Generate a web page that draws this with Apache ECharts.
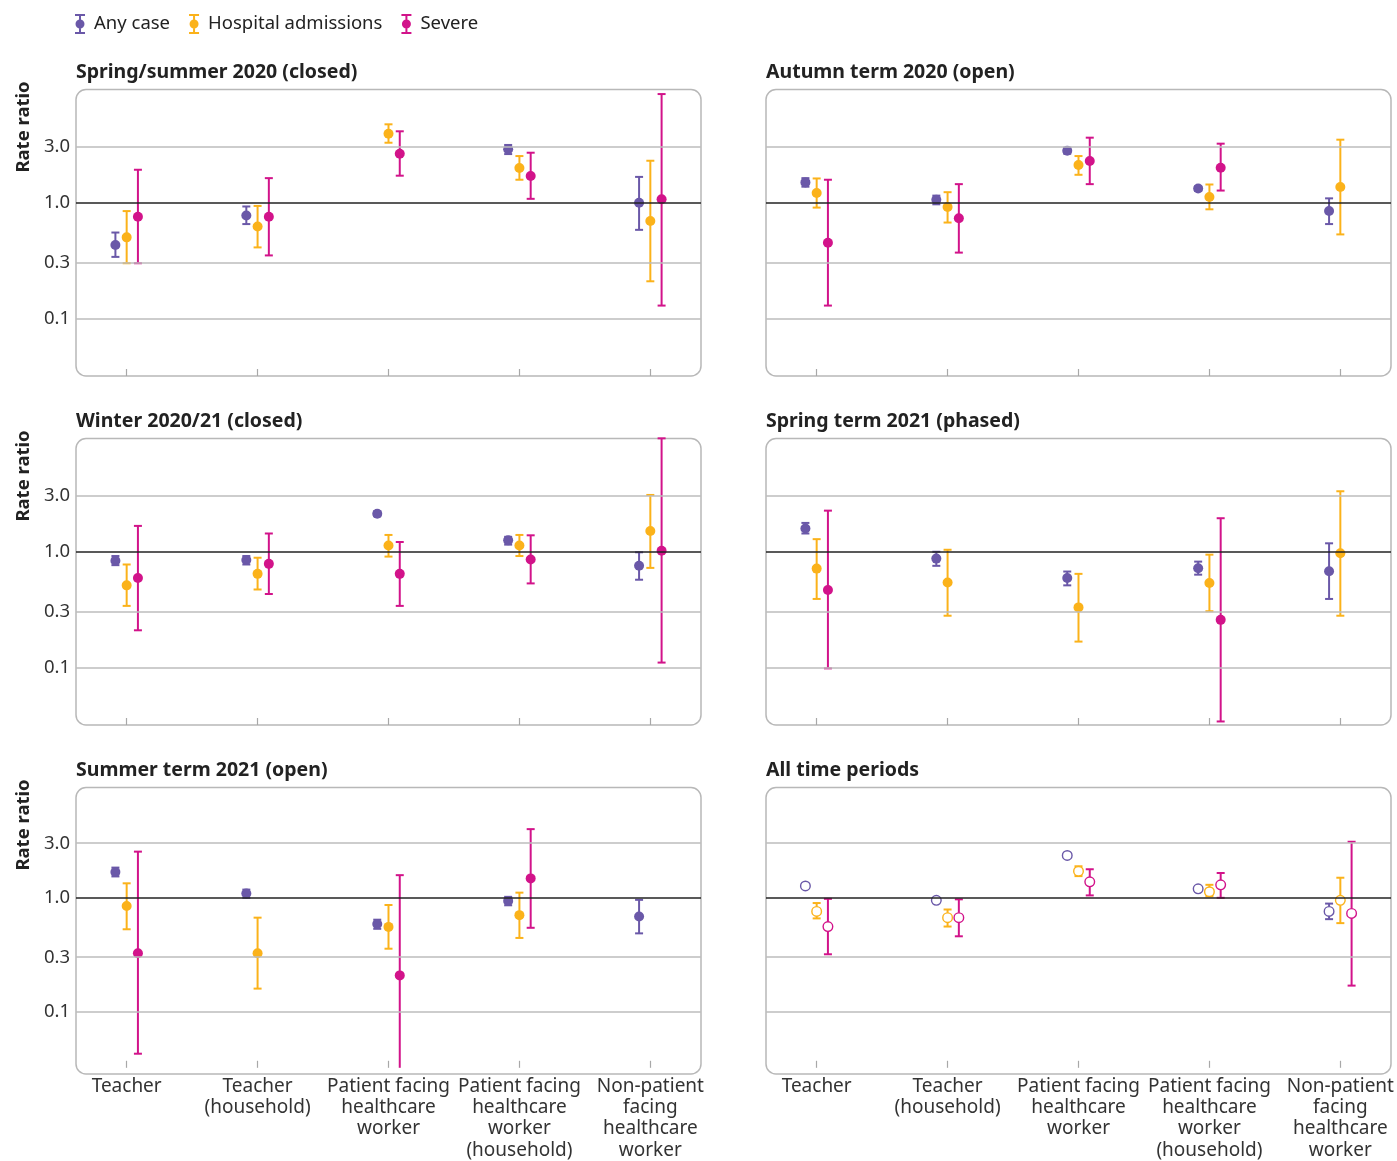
<!DOCTYPE html>
<html>
<head>
<meta charset="utf-8">
<script src="https://cdn.jsdelivr.net/npm/echarts@6/dist/echarts.min.js"></script>
<style>
html,body{margin:0;padding:0;background:#fff;}
#chart{width:1397px;height:1161px;}
</style>
</head>
<body>
<div id="chart"></div>
<script>
// ---------- data ----------
const categories = ['Teacher', 'Teacher\n(household)', 'Patient facing\nhealthcare\nworker', 'Patient facing\nhealthcare\nworker\n(household)', 'Non-patient\nfacing\nhealthcare\nworker'];
const groups = ['Any case', 'Hospital admissions', 'Severe'];
const panelTitles = ['Spring/summer 2020 (closed)', 'Autumn term 2020 (open)', 'Winter 2020/21 (closed)', 'Spring term 2021 (phased)', 'Summer term 2021 (open)', 'All time periods'];
const yTicks = [0.1, 0.3, 1.0, 3.0];

// each entry: [estimate, lower CI, upper CI] per category (null = not shown)
// Spring/summer 2020 (closed)
const springSummerAny    = [[0.43,0.34,0.55],[0.77,0.65,0.92],null,[2.85,2.59,3.10],[0.99,0.58,1.65]];
const springSummerHosp   = [[0.50,0.30,0.84],[0.62,0.41,0.93],[3.87,3.24,4.66],[1.97,1.56,2.49],[0.69,0.21,2.27]];
const springSummerSevere = [[0.75,0.30,1.90],[0.75,0.35,1.61],[2.61,1.69,4.06],[1.68,1.07,2.66],[1.06,0.13,8.47]];
// Autumn term 2020 (open)
const autumnAny    = [[1.48,1.36,1.61],[1.05,0.96,1.14],[2.77,2.61,2.94],[1.31,1.25,1.37],[0.84,0.65,1.08]];
const autumnHosp   = [[1.20,0.90,1.60],[0.91,0.67,1.22],[2.09,1.72,2.49],[1.11,0.87,1.42],[1.35,0.53,3.44]];
const autumnSevere = [[0.45,0.13,1.56],[0.73,0.37,1.43],[2.26,1.43,3.58],[1.98,1.26,3.18],null];
// Winter 2020/21 (closed)
const winterAny    = [[0.83,0.76,0.91],[0.84,0.77,0.91],[2.10,2.00,2.20],[1.24,1.14,1.33],[0.75,0.57,0.98]];
const winterHosp   = [[0.51,0.34,0.77],[0.64,0.47,0.88],[1.12,0.90,1.38],[1.12,0.91,1.38],[1.49,0.72,3.04]];
const winterSevere = [[0.59,0.21,1.65],[0.78,0.43,1.42],[0.64,0.34,1.20],[0.85,0.53,1.37],[1.01,0.111,9.3]];
// Spring term 2021 (phased)
const springAny    = [[1.57,1.42,1.75],[0.865,0.75,0.99],[0.59,0.51,0.67],[0.715,0.63,0.815],[0.674,0.39,1.17]];
const springHosp   = [[0.71,0.39,1.27],[0.54,0.28,1.03],[0.33,0.168,0.64],[0.535,0.306,0.935],[0.96,0.28,3.27]];
const springSevere = [[0.466,0.099,2.23],null,null,[0.258,0.0347,1.92],null];
// Summer term 2021 (open)
const summerAny    = [[1.68,1.54,1.84],[1.09,1.00,1.18],[0.59,0.535,0.643],[0.94,0.86,1.02],[0.687,0.488,0.96]];
const summerHosp   = [[0.848,0.53,1.34],[0.327,0.16,0.67],[0.556,0.358,0.865],[0.705,0.445,1.11],null];
const summerSevere = [[0.327,0.043,2.54],null,[0.209,0.02,1.58],[1.48,0.546,4.0],null];
// All time periods
const allAny    = [[1.27,1.22,1.32],[0.95,0.91,0.99],[2.35,2.25,2.45],[1.20,1.15,1.25],[0.76,0.65,0.89]];
const allHosp   = [[0.76,0.66,0.90],[0.67,0.56,0.79],[1.71,1.55,1.89],[1.13,1.03,1.30],[0.95,0.60,1.50]];
const allSevere = [[0.56,0.32,0.98],[0.67,0.46,0.97],[1.38,1.05,1.78],[1.30,1.00,1.65],[0.73,0.17,3.1]];

const panelData = [
  [springSummerAny, springSummerHosp, springSummerSevere],
  [autumnAny, autumnHosp, autumnSevere],
  [winterAny, winterHosp, winterSevere],
  [springAny, springHosp, springSevere],
  [summerAny, summerHosp, summerSevere],
  [allAny, allHosp, allSevere]
];
const hollowPanel = [false, false, false, false, false, true];

// ---------- styling ----------
const FONT = 'Noto Sans';
const colors = ['#6a58a8', '#fbb21a', '#d2138a'];
const offsets = [-0.086, 0, 0.086];
const colLeft = [76, 766];
const rowTop = [89.5, 438.5, 787.5];
const boxW = 625, boxH = 286.5;
const xMin = -0.387, xMax = 4.387;
const yMin = -1.49, yMax = 0.967;

function makeRender(offset, hollow, color) {
  return function (params, api) {
    const cat = api.value(0);
    const v = api.value(1), lo = api.value(2), hi = api.value(3);
    const cs = params.coordSys;
    const p = api.coord([cat + offset, v]);
    const pl = api.coord([cat + offset, lo]);
    const ph = api.coord([cat + offset, hi]);
    const bottom = cs.y + cs.height;
    let lowY = pl[1], lowCap = true;
    if (lowY > bottom) { lowY = bottom; lowCap = false; }
    const st = { stroke: color, lineWidth: 2 };
    const children = [
      { type: 'line', shape: { x1: p[0], y1: ph[1], x2: p[0], y2: lowY }, style: st },
      { type: 'line', shape: { x1: p[0] - 4, y1: ph[1], x2: p[0] + 4, y2: ph[1] }, style: st }
    ];
    if (lowCap) children.push({ type: 'line', shape: { x1: p[0] - 4, y1: lowY, x2: p[0] + 4, y2: lowY }, style: st });
    children.push({
      type: 'circle', shape: { cx: p[0], cy: p[1], r: hollow ? 4.8 : 5 },
      style: hollow ? { fill: '#fff', stroke: color, lineWidth: 1.4 } : { fill: color }
    });
    return { type: 'group', children: children };
  };
}

const grids = [], xAxes = [], yAxes = [], series = [], titles = [], graphics = [];
for (let i = 0; i < 6; i++) {
  const row = Math.floor(i / 2), col = i % 2;
  const left = colLeft[col], top = rowTop[row];
  grids.push({ left: left, top: top, width: boxW, height: boxH, containLabel: false });
  xAxes.push({
    gridIndex: i, type: 'value', min: xMin, max: xMax, position: 'bottom',
    axisLine: { show: false, onZero: false }, splitLine: { show: false },
    axisTick: { show: true, inside: true, length: 7, customValues: [0, 1, 2, 3, 4], lineStyle: { color: '#a8a8a8', width: 1.2 } },
    axisLabel: { show: row === 2, customValues: [0, 1, 2, 3, 4], formatter: function (v) { return categories[Math.round(v)]; },
      fontSize: 19, lineHeight: 21.3, color: '#333', fontFamily: FONT, margin: 8 }
  });
  yAxes.push({
    gridIndex: i, type: 'value', min: yMin, max: yMax, position: 'left',
    axisLine: { show: false, onZero: false }, axisTick: { show: false }, splitLine: { show: false },
    axisLabel: { show: col === 0, customValues: yTicks.map(function (t) { return Math.log10(t); }),
      formatter: function (v) { return Math.pow(10, v).toFixed(1); },
      fontSize: 18.5, color: '#333', fontFamily: FONT, margin: 6 }
  });
  // gridlines
  series.push({
    type: 'line', xAxisIndex: i, yAxisIndex: i, data: [], z: 1, silent: true,
    markLine: {
      silent: true, symbol: ['none', 'none'], label: { show: false }, animation: false,
      data: yTicks.map(function (t) {
        return { yAxis: Math.log10(t), lineStyle: { color: t === 1 ? '#222' : '#bcbcbc', width: 1.5, type: 'solid' } };
      })
    }
  });
  for (let g = 0; g < 3; g++) {
    const d = [];
    panelData[i][g].forEach(function (e, c) {
      if (e) d.push([c, Math.log10(e[0]), Math.log10(e[1]), Math.log10(e[2])]);
    });
    series.push({
      type: 'custom', name: groups[g], xAxisIndex: i, yAxisIndex: i, z: 3,
      itemStyle: { color: colors[g] },
      encode: { x: 0, y: 1 },
      renderItem: makeRender(offsets[g], hollowPanel[i], colors[g]),
      data: d, animation: false
    });
  }
  titles.push({ text: panelTitles[i], left: left, top: top - 27, padding: 0,
    textStyle: { fontSize: 19.5, fontWeight: 'bold', color: '#222', fontFamily: FONT } });
  graphics.push({ type: 'rect', silent: true, z: 0,
    shape: { x: left, y: top, width: boxW, height: boxH, r: 10 },
    style: { fill: 'none', stroke: '#b8b8b8', lineWidth: 1.5 } });
}
[127, 476, 825].forEach(function (cy) {
  graphics.push({ type: 'text', x: 24, y: cy, rotation: Math.PI / 2, silent: true,
    style: { text: 'Rate ratio', font: 'bold 18.5px "' + FONT + '"', fill: '#222', align: 'center', verticalAlign: 'middle' } });
});

const iconPath = 'path://M0,0H10V2H0Z M4,0H6V20H4Z M0,18H10V20H0Z M0.5,10A4.5,4.5,0,1,1,9.5,10A4.5,4.5,0,1,1,0.5,10Z';

const chart = echarts.init(document.getElementById('chart'), null, { renderer: 'canvas' });
chart.setOption({
  animation: false,
  backgroundColor: '#fff',
  title: titles,
  legend: {
    left: 75, top: 14, padding: 0, itemWidth: 10, itemHeight: 20, itemGap: 19,
    data: groups.map(function (n) { return { name: n, icon: iconPath }; }),
    textStyle: { fontSize: 18.5, color: '#222', fontFamily: FONT, padding: [0, 0, 0, 4] }
  },
  grid: grids, xAxis: xAxes, yAxis: yAxes, series: series,
  graphic: graphics
});
</script>
</body>
</html>
